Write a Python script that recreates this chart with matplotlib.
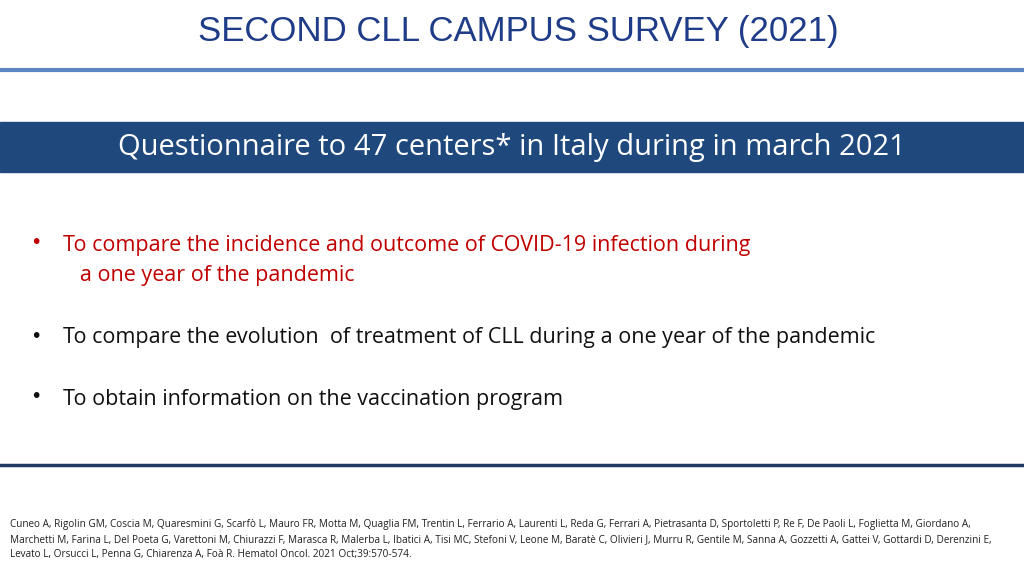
import matplotlib.pyplot as plt
from matplotlib.patches import Rectangle
from matplotlib.lines import Line2D

W, H = 1024, 576

title = "SECOND CLL CAMPUS SURVEY (2021)"
banner = "Questionnaire to 47 centers* in Italy during in march 2021"
bullets = [
    ("To compare the incidence and outcome of COVID-19 infection during\n   a one year of the pandemic", "#C00000", 245),
    ("To compare the evolution  of treatment of CLL during a one year of the pandemic", "#111111", 338),
    ("To obtain information on the vaccination program", "#111111", 399),
]
citation = [
    "Cuneo A, Rigolin GM, Coscia M, Quaresmini G, Scarfò L, Mauro FR, Motta M, Quaglia FM, Trentin L, Ferrario A, Laurenti L, Reda G, Ferrari A, Pietrasanta D, Sportoletti P, Re F, De Paoli L, Foglietta M, Giordano A,",
    "Marchetti M, Farina L, Del Poeta G, Varettoni M, Chiurazzi F, Marasca R, Malerba L, Ibatici A, Tisi MC, Stefoni V, Leone M, Baratè C, Olivieri J, Murru R, Gentile M, Sanna A, Gozzetti A, Gattei V, Gottardi D, Derenzini E,",
    "Levato L, Orsucci L, Penna G, Chiarenza A, Foà R. Hematol Oncol. 2021 Oct;39:570-574.",
]

fig = plt.figure(figsize=(W / 100, H / 100), dpi=100)
ax = fig.add_axes([0, 0, 1, 1])
ax.set_xlim(0, W)
ax.set_ylim(H, 0)
ax.axis("off")

ax.text(518, 32, title, ha="center", va="center", fontsize=25,
        color="#1F3C88", family="Liberation Sans")
ax.add_line(Line2D([0, W], [70, 70], color="#5B87C5", lw=3))

ax.add_patch(Rectangle((0, 122), W, 50, color="#1F497D"))
ax.text(512, 148, banner, ha="center", va="center", fontsize=21,
        color="white", family="Open Sans")

for text, col, y in bullets:
    ax.text(30, y - 2, "•", ha="left", va="center", fontsize=14, color=col)
    for i, ln in enumerate(text.split("\n")):
        ax.text(63, y + i * 31, ln, ha="left", va="center", fontsize=15.5,
                color=col, family="Open Sans")

ax.add_line(Line2D([0, W], [465, 465], color="#1F3864", lw=2.5))

for i, ln in enumerate(citation):
    ax.text(10, 524 + i * 15.5, ln, ha="left", va="center", fontsize=7.2,
            color="#222222", family="Open Sans")

fig.savefig("out.png", dpi=100)
